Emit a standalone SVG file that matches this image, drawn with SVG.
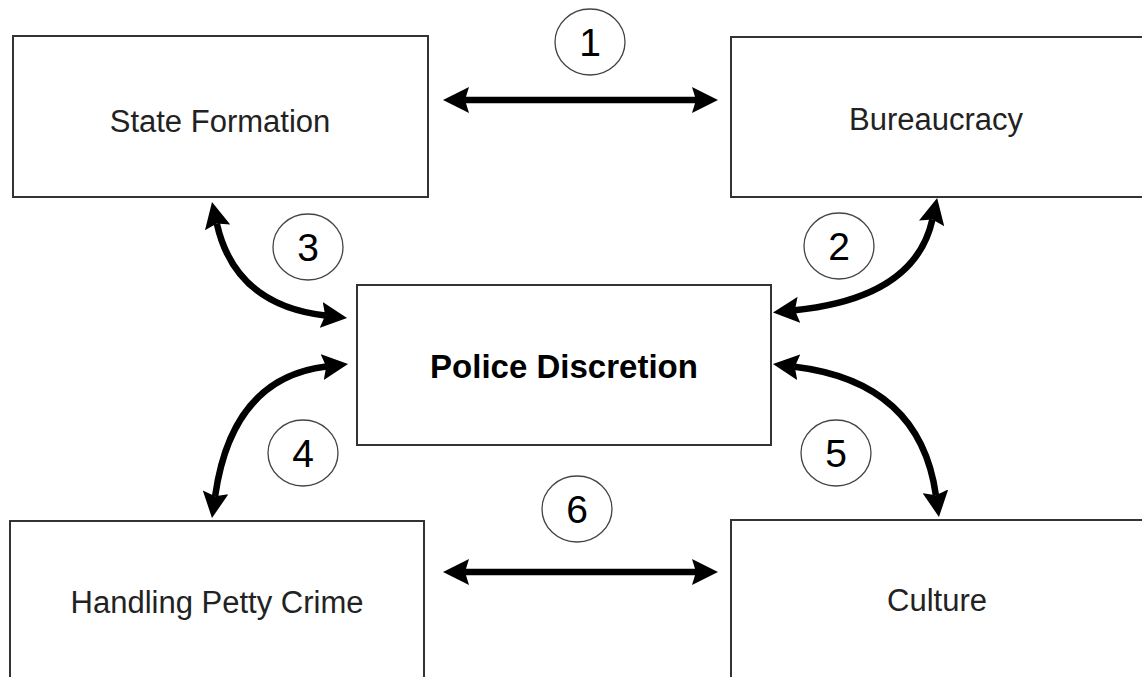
<svg xmlns="http://www.w3.org/2000/svg" width="1142" height="677" viewBox="0 0 1142 677">
<style>
.box{fill:#fff;stroke:#333;stroke-width:2}
.lbl{font-family:"Liberation Sans",Arial,sans-serif;font-size:31px;fill:#222;text-anchor:middle}
.bold{font-weight:bold;fill:#000;font-size:33px}
.num{fill:#fff;stroke:#444;stroke-width:1.3}
.numt{font-family:"Liberation Sans",Arial,sans-serif;font-size:39px;fill:#000;text-anchor:middle}
.arr{fill:none;stroke:#000;stroke-width:6.5;marker-start:url(#ah);marker-end:url(#ah)}
</style>
<defs>
<marker id="ah" markerUnits="userSpaceOnUse" viewBox="0 0 26 26" markerWidth="26" markerHeight="26" refX="4" refY="13" orient="auto-start-reverse">
<path d="M0,0 L26,13 L0,26 L4,13 z" fill="#000"/>
</marker>
</defs>
<rect width="1142" height="677" fill="#fff"/>
<g id="state-formation">
<rect class="box" x="13" y="36" width="415" height="161"/>
<text class="lbl" x="220" y="132">State Formation</text>
</g>
<g id="bureaucracy">
<rect class="box" x="731" y="37" width="430" height="160"/>
<text class="lbl" x="936" y="130">Bureaucracy</text>
</g>
<g id="police-discretion">
<rect class="box" x="357" y="285" width="414" height="160"/>
<text class="lbl bold" x="564" y="378">Police Discretion</text>
</g>
<g id="handling-petty-crime">
<rect class="box" x="10" y="521" width="414" height="200"/>
<text class="lbl" x="217" y="613">Handling Petty Crime</text>
</g>
<g id="culture">
<rect class="box" x="731" y="520" width="430" height="200"/>
<text class="lbl" x="937" y="611">Culture</text>
</g>
<g id="connectors">
<path class="arr" d="M465,100 L696,100"/>
<path class="arr" d="M465,572 L696,572"/>
<path class="arr" d="M216.8,223.5 Q235,305 325.2,315.5"/>
<path class="arr" d="M932.4,219.5 Q915,298 794.9,310.2"/>
<path class="arr" d="M326.2,366.6 Q232,378 215.1,496.2"/>
<path class="arr" d="M794.8,366.7 Q920,382 935.9,495.2"/>
</g>
<g id="label-1"><ellipse class="num" cx="590" cy="42" rx="35" ry="33"/><text class="numt" x="590" y="56">1</text></g>
<g id="label-2"><ellipse class="num" cx="839" cy="246" rx="35" ry="33"/><text class="numt" x="839" y="260">2</text></g>
<g id="label-3"><ellipse class="num" cx="308" cy="247" rx="35" ry="33"/><text class="numt" x="308" y="261">3</text></g>
<g id="label-4"><ellipse class="num" cx="303" cy="453" rx="35" ry="33"/><text class="numt" x="303" y="467">4</text></g>
<g id="label-5"><ellipse class="num" cx="836" cy="453" rx="35" ry="33"/><text class="numt" x="836" y="467">5</text></g>
<g id="label-6"><ellipse class="num" cx="577" cy="509" rx="35" ry="33"/><text class="numt" x="577" y="523">6</text></g>
</svg>
